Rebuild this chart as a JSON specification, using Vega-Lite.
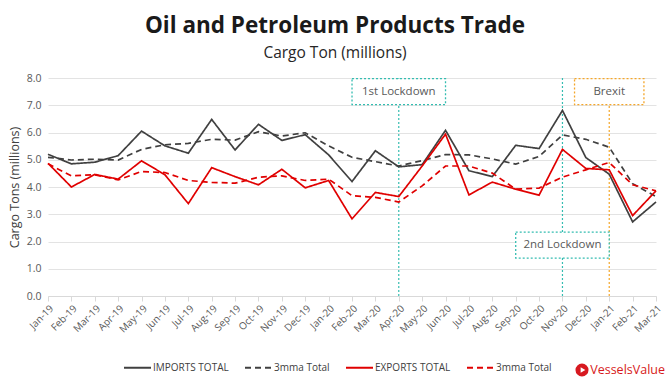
{
  "$schema": "https://vega.github.io/schema/vega-lite/v6.json",
  "width": 608,
  "height": 218,
  "autosize": {"type": "none"},
  "padding": {"left": 48, "top": 78, "right": 14, "bottom": 84},
  "background": "white",
  "config": {
    "font": "Open Sans",
    "view": {"stroke": null},
    "axisY": {
      "titleFontSize": 12.5,
      "titleFontWeight": "normal",
      "titleColor": "#404040",
      "titlePadding": 5,
      "labelFontSize": 10.5,
      "labelColor": "#595959",
      "labelPadding": 7,
      "labelOverlap": false,
      "domain": false,
      "ticks": false,
      "gridColor": "#e3e3e3"
    }
  },
  "title": {
    "text": "Oil and Petroleum Products Trade",
    "subtitle": "Cargo Ton (millions)",
    "anchor": "middle",
    "dx": -17,
    "font": "Open Sans",
    "fontSize": 22.5,
    "fontWeight": "bold",
    "color": "#1a1a1a",
    "subtitleFont": "Open Sans",
    "subtitleFontSize": 15.5,
    "subtitleColor": "#262626",
    "subtitlePadding": 8,
    "offset": 12
  },
  "datasets": {
    "trade": [
      {"month": "Jan-19", "IMPORTS TOTAL": 5.20, "IMPORTS 3mma": 5.09, "EXPORTS TOTAL": 4.87, "EXPORTS 3mma": 4.85},
      {"month": "Feb-19", "IMPORTS TOTAL": 4.85, "IMPORTS 3mma": 4.99, "EXPORTS TOTAL": 4.00, "EXPORTS 3mma": 4.41},
      {"month": "Mar-19", "IMPORTS TOTAL": 4.91, "IMPORTS 3mma": 5.02, "EXPORTS TOTAL": 4.46, "EXPORTS 3mma": 4.45},
      {"month": "Apr-19", "IMPORTS TOTAL": 5.15, "IMPORTS 3mma": 4.99, "EXPORTS TOTAL": 4.29, "EXPORTS 3mma": 4.26},
      {"month": "May-19", "IMPORTS TOTAL": 6.05, "IMPORTS 3mma": 5.38, "EXPORTS TOTAL": 4.96, "EXPORTS 3mma": 4.57},
      {"month": "Jun-19", "IMPORTS TOTAL": 5.51, "IMPORTS 3mma": 5.55, "EXPORTS TOTAL": 4.45, "EXPORTS 3mma": 4.53},
      {"month": "Jul-19", "IMPORTS TOTAL": 5.24, "IMPORTS 3mma": 5.60, "EXPORTS TOTAL": 3.39, "EXPORTS 3mma": 4.24},
      {"month": "Aug-19", "IMPORTS TOTAL": 6.48, "IMPORTS 3mma": 5.75, "EXPORTS TOTAL": 4.71, "EXPORTS 3mma": 4.17},
      {"month": "Sep-19", "IMPORTS TOTAL": 5.36, "IMPORTS 3mma": 5.72, "EXPORTS TOTAL": 4.38, "EXPORTS 3mma": 4.14},
      {"month": "Oct-19", "IMPORTS TOTAL": 6.30, "IMPORTS 3mma": 6.03, "EXPORTS TOTAL": 4.08, "EXPORTS 3mma": 4.36},
      {"month": "Nov-19", "IMPORTS TOTAL": 5.71, "IMPORTS 3mma": 5.87, "EXPORTS TOTAL": 4.65, "EXPORTS 3mma": 4.41},
      {"month": "Dec-19", "IMPORTS TOTAL": 5.92, "IMPORTS 3mma": 5.99, "EXPORTS TOTAL": 3.97, "EXPORTS 3mma": 4.24},
      {"month": "Jan-20", "IMPORTS TOTAL": 5.18, "IMPORTS 3mma": 5.51, "EXPORTS TOTAL": 4.24, "EXPORTS 3mma": 4.29},
      {"month": "Feb-20", "IMPORTS TOTAL": 4.20, "IMPORTS 3mma": 5.09, "EXPORTS TOTAL": 2.83, "EXPORTS 3mma": 3.68},
      {"month": "Mar-20", "IMPORTS TOTAL": 5.33, "IMPORTS 3mma": 4.93, "EXPORTS TOTAL": 3.80, "EXPORTS 3mma": 3.62},
      {"month": "Apr-20", "IMPORTS TOTAL": 4.74, "IMPORTS 3mma": 4.77, "EXPORTS TOTAL": 3.65, "EXPORTS 3mma": 3.45},
      {"month": "May-20", "IMPORTS TOTAL": 4.82, "IMPORTS 3mma": 4.97, "EXPORTS TOTAL": 4.77, "EXPORTS 3mma": 4.04},
      {"month": "Jun-20", "IMPORTS TOTAL": 6.08, "IMPORTS 3mma": 5.19, "EXPORTS TOTAL": 5.94, "EXPORTS 3mma": 4.77},
      {"month": "Jul-20", "IMPORTS TOTAL": 4.60, "IMPORTS 3mma": 5.18, "EXPORTS TOTAL": 3.71, "EXPORTS 3mma": 4.77},
      {"month": "Aug-20", "IMPORTS TOTAL": 4.38, "IMPORTS 3mma": 5.03, "EXPORTS TOTAL": 4.18, "EXPORTS 3mma": 4.51},
      {"month": "Sep-20", "IMPORTS TOTAL": 5.53, "IMPORTS 3mma": 4.84, "EXPORTS TOTAL": 3.92, "EXPORTS 3mma": 3.92},
      {"month": "Oct-20", "IMPORTS TOTAL": 5.41, "IMPORTS 3mma": 5.12, "EXPORTS TOTAL": 3.70, "EXPORTS 3mma": 3.96},
      {"month": "Nov-20", "IMPORTS TOTAL": 6.81, "IMPORTS 3mma": 5.91, "EXPORTS TOTAL": 5.38, "EXPORTS 3mma": 4.36},
      {"month": "Dec-20", "IMPORTS TOTAL": 5.08, "IMPORTS 3mma": 5.75, "EXPORTS TOTAL": 4.68, "EXPORTS 3mma": 4.63},
      {"month": "Jan-21", "IMPORTS TOTAL": 4.47, "IMPORTS 3mma": 5.46, "EXPORTS TOTAL": 4.63, "EXPORTS 3mma": 4.90},
      {"month": "Feb-21", "IMPORTS TOTAL": 2.72, "IMPORTS 3mma": 4.12, "EXPORTS TOTAL": 2.95, "EXPORTS 3mma": 4.08},
      {"month": "Mar-21", "IMPORTS TOTAL": 3.45, "IMPORTS 3mma": 3.65, "EXPORTS TOTAL": 3.86, "EXPORTS 3mma": 3.86}
    ],
    "events": [
      {"event": "1st Lockdown", "month": "Apr-20"},
      {"event": "2nd Lockdown", "month": "Nov-20"},
      {"event": "Brexit", "month": "Jan-21"}
    ],
    "brand": [
      {"name": "VesselsValue", "month": "Mar-21"}
    ]
  },
  "encoding": {
    "x": {
      "field": "month",
      "type": "ordinal",
      "scale": {
        "type": "point",
        "padding": 0,
        "domain": ["Jan-19","Feb-19","Mar-19","Apr-19","May-19","Jun-19","Jul-19","Aug-19","Sep-19","Oct-19","Nov-19","Dec-19","Jan-20","Feb-20","Mar-20","Apr-20","May-20","Jun-20","Jul-20","Aug-20","Sep-20","Oct-20","Nov-20","Dec-20","Jan-21","Feb-21","Mar-21"]
      },
      "axis": {
        "title": null,
        "labelAngle": -45,
        "labelFontSize": 10,
        "labelColor": "#595959",
        "tickColor": "#d9d9d9",
        "tickSize": 5,
        "domainColor": "#d9d9d9",
        "grid": false,
        "labelPadding": 2
      }
    }
  },
  "layer": [
    {
      "data": {"name": "events"},
      "mark": {"type": "rule", "strokeDash": [2, 2], "strokeWidth": 1.2},
      "encoding": {
        "color": {"condition": {"test": "datum.event === 'Brexit'", "value": "#f4a62a"}, "value": "#35bdb1"}
      }
    },
    {
      "data": {"name": "trade"},
      "transform": [
        {"fold": ["IMPORTS TOTAL", "IMPORTS 3mma", "EXPORTS TOTAL", "EXPORTS 3mma"], "as": ["series", "value"]}
      ],
      "mark": {"type": "line", "strokeWidth": 1.7},
      "encoding": {
        "y": {
          "field": "value",
          "type": "quantitative",
          "scale": {"domain": [0, 8], "nice": false},
          "axis": {"title": "Cargo Tons (millions)", "format": ".1f", "values": [0, 1, 2, 3, 4, 5, 6, 7, 8], "tickCount": 12}
        },
        "color": {
          "field": "series",
          "type": "nominal",
          "scale": {
            "domain": ["IMPORTS TOTAL", "IMPORTS 3mma", "EXPORTS TOTAL", "EXPORTS 3mma"],
            "range": ["#404040", "#404040", "#e00000", "#e00000"]
          },
          "legend": {
            "title": null,
            "orient": "none",
            "legendX": 75,
            "legendY": 275,
            "direction": "horizontal",
            "gridAlign": "each",
            "symbolType": "stroke",
            "symbolSize": 729,
            "symbolStrokeWidth": 2,
            "labelFontSize": 10,
            "labelColor": "#404040",
            "columnPadding": 12,
            "labelOffset": 1,
            "labelExpr": "indexof(datum.label, '3mma') >= 0 ? '3mma Total' : datum.label"
          }
        },
        "strokeDash": {
          "field": "series",
          "type": "nominal",
          "scale": {
            "domain": ["IMPORTS TOTAL", "IMPORTS 3mma", "EXPORTS TOTAL", "EXPORTS 3mma"],
            "range": [[1, 0], [6, 4], [1, 0], [6, 4]]
          },
          "legend": {
            "title": null,
            "orient": "none",
            "legendX": 75,
            "legendY": 275,
            "direction": "horizontal",
            "gridAlign": "each",
            "symbolType": "stroke",
            "symbolSize": 729,
            "symbolStrokeWidth": 2,
            "labelFontSize": 10,
            "labelColor": "#404040",
            "columnPadding": 12,
            "labelOffset": 1,
            "labelExpr": "indexof(datum.label, '3mma') >= 0 ? '3mma Total' : datum.label"
          }
        }
      }
    },
    {
      "data": {"name": "events"},
      "transform": [{"filter": "datum.event === '1st Lockdown'"}],
      "encoding": {"y": {"datum": 7.5, "type": "quantitative", "axis": {"title": "Cargo Tons (millions)", "format": ".1f", "values": [0, 1, 2, 3, 4, 5, 6, 7, 8], "tickCount": 12}}},
      "layer": [
        {"mark": {"type": "point", "shape": "M-1,-0.278L1,-0.278L1,0.278L-1,0.278Z", "size": 8742, "filled": true, "fill": "white", "stroke": "#35bdb1", "strokeWidth": 1.3, "strokeDash": [2, 2], "opacity": 1}},
        {"mark": {"type": "text", "fontSize": 11.5, "color": "#595959"}, "encoding": {"text": {"field": "event"}}}
      ]
    },
    {
      "data": {"name": "events"},
      "transform": [{"filter": "datum.event === '2nd Lockdown'"}],
      "encoding": {"y": {"datum": 1.87, "type": "quantitative", "axis": {"title": "Cargo Tons (millions)", "format": ".1f", "values": [0, 1, 2, 3, 4, 5, 6, 7, 8], "tickCount": 12}}},
      "layer": [
        {"mark": {"type": "point", "shape": "M-1,-0.278L1,-0.278L1,0.278L-1,0.278Z", "size": 8742, "filled": true, "fill": "white", "stroke": "#35bdb1", "strokeWidth": 1.3, "strokeDash": [2, 2], "opacity": 1}},
        {"mark": {"type": "text", "fontSize": 11.5, "color": "#595959"}, "encoding": {"text": {"field": "event"}}}
      ]
    },
    {
      "data": {"name": "events"},
      "transform": [{"filter": "datum.event === 'Brexit'"}],
      "encoding": {"y": {"datum": 7.5, "type": "quantitative", "axis": {"title": "Cargo Tons (millions)", "format": ".1f", "values": [0, 1, 2, 3, 4, 5, 6, 7, 8], "tickCount": 12}}},
      "layer": [
        {"mark": {"type": "point", "shape": "M-1,-0.375L1,-0.375L1,0.375L-1,0.375Z", "size": 4816, "filled": true, "fill": "white", "stroke": "#f4a62a", "strokeWidth": 1.3, "strokeDash": [2, 2], "opacity": 1}},
        {"mark": {"type": "text", "fontSize": 11.5, "color": "#595959"}, "encoding": {"text": {"field": "event"}}}
      ]
    },
    {
      "data": {"name": "brand"},
      "encoding": {"y": {"datum": 0, "type": "quantitative", "axis": {"title": "Cargo Tons (millions)", "format": ".1f", "values": [0, 1, 2, 3, 4, 5, 6, 7, 8], "tickCount": 12}}},
      "layer": [
        {"mark": {"type": "point", "shape": "circle", "size": 170, "filled": true, "color": "#d71920", "opacity": 1}, "encoding": {"xOffset": {"value": -74}, "yOffset": {"value": 74}}},
        {"mark": {"type": "point", "shape": "triangle-right", "size": 30, "filled": true, "color": "white", "opacity": 1}, "encoding": {"xOffset": {"value": -73}, "yOffset": {"value": 74}}},
        {"mark": {"type": "text", "fontSize": 12.5, "fontWeight": 500, "color": "#d71920", "align": "right", "baseline": "middle", "dx": 9, "dy": 74}, "encoding": {"text": {"field": "name"}}}
      ]
    }
  ]
}
